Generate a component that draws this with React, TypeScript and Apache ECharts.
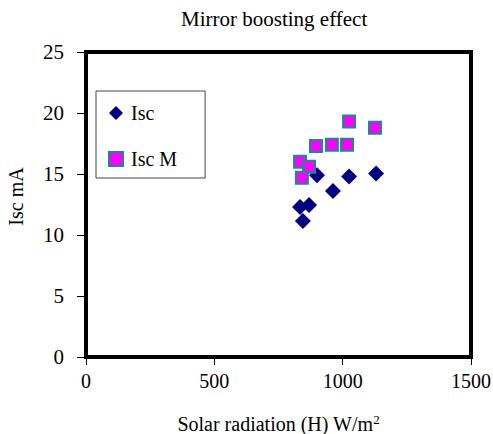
import React, { useEffect, useRef } from "react";
import * as echarts from "echarts";

const iscX = [834, 869, 845, 900, 962, 1025, 1130];
const iscY = [12.3, 12.45, 11.15, 14.9, 13.6, 14.8, 15.05];
const iscMX = [834, 869, 841, 896, 958, 1017, 1025, 1126];
const iscMY = [16.0, 15.6, 14.7, 17.3, 17.4, 17.4, 19.3, 18.8];
const seriesNames = ["Isc", "Isc M"];
const titleText = "Mirror boosting effect";
const xNameMain = "Solar radiation (H) W/m";
const xNameSup = "2";
const yName = "Isc mA";

const FONT = "'Liberation Serif', 'Times New Roman', serif";

export default function App() {
  const ref = useRef<HTMLDivElement>(null);
  useEffect(() => {
    const chart = echarts.init(ref.current!, null, { renderer: "svg" });
    chart.setOption({
      animation: false,
      backgroundColor: "#fff",
      textStyle: { fontFamily: FONT, color: "#000" },
      title: {
        text: titleText,
        left: 176,
        top: 3,
        textStyle: { fontFamily: FONT, fontSize: 21, fontWeight: "normal", color: "#000" },
      },
      grid: {
        left: 86,
        top: 52,
        right: 22,
        bottom: 77,
        outerBoundsMode: "none",
        containLabel: false,
        show: true,
        borderColor: "#000",
        borderWidth: 4,
        backgroundColor: "#fff",
      },
      legend: {
        orient: "vertical",
        left: 96,
        top: 91,
        padding: [12, 28, 9, 12],
        itemGap: 26,
        itemWidth: 14,
        itemHeight: 14,
        borderColor: "#444",
        borderWidth: 1,
        backgroundColor: "#fff",
        textStyle: { fontFamily: FONT, fontSize: 20, lineHeight: 20, color: "#000", padding: [0, 0, 0, 3] },
        data: seriesNames,
      },
      xAxis: {
        type: "value",
        min: 0,
        max: 1500,
        interval: 500,
        name: `{m|${xNameMain}}{s|${xNameSup}}`,
        nameLocation: "middle",
        nameGap: 56,
        nameTextStyle: {
          fontFamily: FONT,
          fontSize: 20,
          color: "#000",
          rich: {
            m: { fontFamily: FONT, fontSize: 20, color: "#000" },
            s: { fontFamily: FONT, fontSize: 13, color: "#000", verticalAlign: "top", padding: [0, 0, 8, 0] },
          },
        },
        axisLine: { show: true, lineStyle: { color: "#000", width: 4 } },
        axisTick: { show: true, length: 8, lineStyle: { color: "#000", width: 1 } },
        axisLabel: { margin: 14, fontFamily: FONT, fontSize: 20, color: "#000", formatter: (v: number) => String(v) },
        splitLine: { show: false },
      },
      yAxis: {
        type: "value",
        min: 0,
        max: 25,
        interval: 5,
        name: yName,
        nameLocation: "middle",
        nameGap: 60,
        nameTextStyle: { fontFamily: FONT, fontSize: 20, color: "#000", padding: [0, 0, 0, 16] },
        axisLine: { show: true, lineStyle: { color: "#000", width: 4 } },
        axisTick: { show: true, length: 9, lineStyle: { color: "#000", width: 1 } },
        axisLabel: { margin: 22, fontFamily: FONT, fontSize: 21, color: "#000" },
        splitLine: { show: false },
      },
      series: [
        {
          name: seriesNames[0],
          type: "scatter",
          symbol: "diamond",
          symbolSize: 16,
          itemStyle: { color: "#000080", opacity: 1 },
          data: iscX.map((x, i) => [x, iscY[i]]),
        },
        {
          name: seriesNames[1],
          type: "scatter",
          symbol: "rect",
          symbolSize: 12,
          itemStyle: { color: "#FF00FF", borderColor: "#1a8a8a", borderWidth: 2, opacity: 1 },
          data: iscMX.map((x, i) => [x, iscMY[i]]),
        },
      ],
    });
    return () => chart.dispose();
  }, []);
  return <div ref={ref} style={{ width: 493, height: 434, position: "absolute", left: 0, top: 0 }} />;
}
